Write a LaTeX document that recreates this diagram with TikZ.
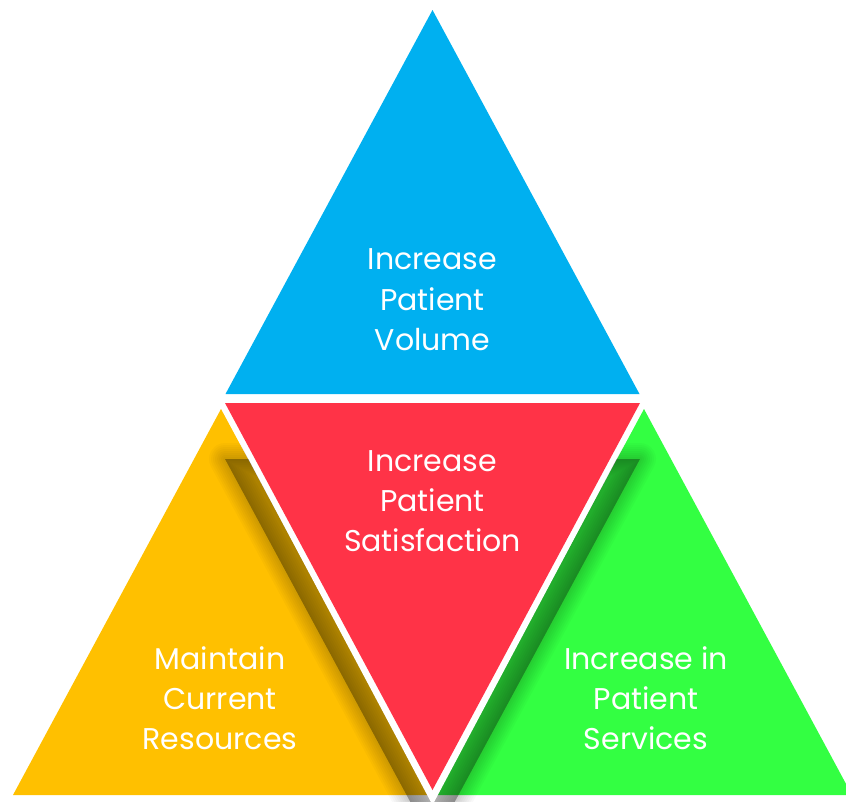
\documentclass[tikz,border=0pt]{standalone}
\usepackage{fontspec}
\setmainfont{Poppins}
\definecolor{cblue}{HTML}{00B0F0}
\definecolor{cred}{HTML}{FF3347}
\definecolor{corange}{HTML}{FFC000}
\definecolor{cgreen}{HTML}{33FF42}
\tikzset{
  lbl/.style={anchor=base, text=white, inner sep=0pt, font=\fontsize{30}{36}\selectfont},
  shadowstroke/.style={draw=black, line join=round},
}
\begin{document}
\begin{tikzpicture}[x=1pt, y=-1pt]
\useasboundingbox (0,0) rectangle (846,801);
\fill[white] (0,0) rectangle (846,801);
% side triangles
\fill[corange] (221,409) -- (13,795) -- (429,795) -- cycle;
\fill[cgreen] (644,409) -- (852,795) -- (436,795) -- cycle;
% shadow of the red triangle (soft)
\def\shadowpath{(225,459) -- (640,459) -- (432.5,843) -- cycle}
\begin{scope}
\clip (0,0) rectangle (846,801);
\fill[black, opacity=0.32] \shadowpath;
\foreach \w in {32,28,24,20,16,12,8,4} {
  \draw[shadowstroke, line width=\w pt, opacity=0.025] \shadowpath;
}
\end{scope}
% blue
\fill[cblue] (432.5,10) -- (639.5,394) -- (225.5,394) -- cycle;
% white halo and red triangle
\fill[white] (215,396) -- (650,396) -- (432.5,805) -- cycle;
\fill[cred] (225,403) -- (640,403) -- (432.5,790) -- cycle;
% texts
\node[lbl] (b1) at (432.5,269) {Increase};
\node[lbl] (b2) at (432.5,310) {Patient};
\node[lbl] (b3) at (432.5,350) {Volume};
\node[lbl] (r1) at (432.5,471) {Increase};
\node[lbl] (r2) at (432.5,511) {Patient};
\node[lbl] (r3) at (432.5,551) {Satisfaction};
\node[lbl] (o1) at (220,669) {Maintain};
\node[lbl] (o2) at (220,709) {Current};
\node[lbl] (o3) at (220,749) {Resources};
\node[lbl] (g1) at (646,669) {Increase in};
\node[lbl] (g2) at (646,709) {Patient};
\node[lbl] (g3) at (646,749) {Services};
\end{tikzpicture}
\end{document}
